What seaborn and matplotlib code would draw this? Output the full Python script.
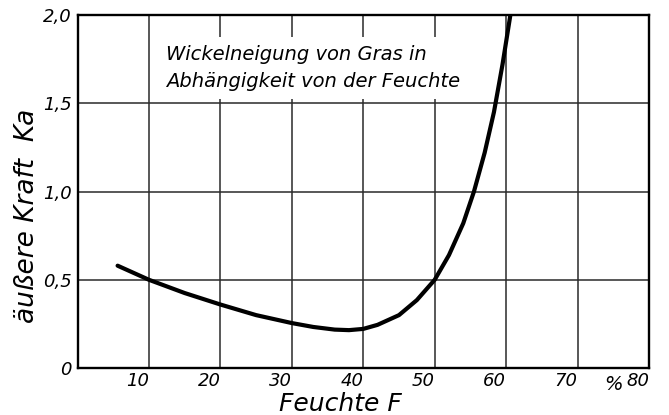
import matplotlib
matplotlib.use("Agg")
import matplotlib.pyplot as plt
import seaborn as sns
import pandas as pd

# Wickelneigung von Gras
feuchte = [5.6, 10, 15, 20, 25, 30, 33, 36, 38, 40, 42, 45, 47.5, 50, 52, 54,
           55.5, 57, 58.3, 59.5, 60.6, 61.2]
kraft = [0.58, 0.50, 0.425, 0.36, 0.30, 0.255, 0.233, 0.218, 0.215, 0.222, 0.245,
         0.30, 0.385, 0.50, 0.64, 0.82, 1.00, 1.22, 1.45, 1.72, 2.00, 2.17]

x_ticks = [10, 20, 30, 40, 50, 60, 70, 80]
y_ticks = [0, 0.5, 1.0, 1.5, 2.0]
y_tick_labels = ["0", "0,5", "1,0", "1,5", "2,0"]

df = pd.DataFrame({"Feuchte": feuchte, "Kraft": kraft})

sns.set_style("white")
plt.rcParams["font.family"] = ["DejaVu Sans"]
plt.rcParams["font.style"] = "italic"
plt.rcParams["text.color"] = "black"
plt.rcParams["axes.labelcolor"] = "black"
plt.rcParams["xtick.color"] = "black"
plt.rcParams["ytick.color"] = "black"

fig = plt.figure(figsize=(6.69, 4.15), dpi=100)
ax = fig.add_axes([0.116, 0.113, 0.854, 0.851])

sns.lineplot(data=df, x="Feuchte", y="Kraft", sort=False, color="black",
             linewidth=3.0, ax=ax, zorder=3)

ax.set_xlim(0, 80)
ax.set_ylim(0, 2.0)
ax.set_xticks(x_ticks)
ax.set_yticks(y_ticks)
ax.set_xticklabels([str(t) for t in x_ticks], fontsize=13, style="italic")
ax.set_yticklabels(y_tick_labels, fontsize=13, style="italic")
ax.tick_params(axis="both", length=0, pad=4)
ax.tick_params(axis="x", pad=3)
for lab in ax.get_xticklabels():
    lab.set_horizontalalignment("right")

ax.set_axisbelow(True)
ax.grid(True, color="#2a2a2a", linewidth=1.1)
for s in ax.spines.values():
    s.set_color("black")
    s.set_linewidth(1.7)

# percent sign between 70 and 80
ax.text(75, -0.04, "%", ha="center", va="top", fontsize=14, style="italic")

ax.set_xlabel("Feuchte F", fontsize=18, style="italic")
ax.xaxis.set_label_coords(0.46, -0.068)
ax.set_ylabel("äußere Kraft  Ka", fontsize=19, style="italic")
ax.yaxis.set_label_coords(-0.066, 0.43)

ax.text(12.4, 1.70, "Wickelneigung von Gras in\nAbhängigkeit von der Feuchte",
        fontsize=14, style="italic", ha="left", va="center", linespacing=1.5,
        zorder=2, bbox=dict(facecolor="white", edgecolor="none", pad=6))

fig.savefig("out.png", dpi=100)
